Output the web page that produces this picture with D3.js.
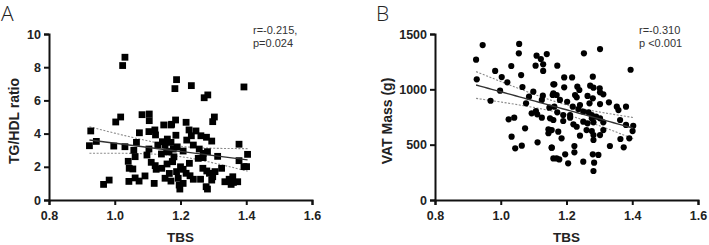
<!DOCTYPE html>
<html><head><meta charset="utf-8">
<script src="https://cdn.jsdelivr.net/npm/d3@7"></script>
<style>
html,body{margin:0;padding:0;background:#fff;}
svg{display:block;font-family:"Liberation Sans",Arial,sans-serif;}
</style></head>
<body>
<svg id="chart" width="709" height="245"></svg>
<script>
// ---------- Data ----------
const xTicks = [0.8, 1.0, 1.2, 1.4, 1.6];
const yTicksA = [0, 2, 4, 6, 8, 10];
const yTicksB = [0, 500, 1000, 1500];

const tbsA = [1.031,1.024,1.018,1.003,0.927,0.923,0.944,0.997,1.031,1.075,1.083,1.105,1.105,1.066,1.058,1.041,1.044,1.055,1.043,1.062,1.074,1.092,1.120,1.062,0.966,0.983,1.104,1.122,1.124,1.149,1.171,1.098,1.111,1.123,1.126,1.143,1.159,1.131,1.145,1.153,1.158,1.160,1.171,1.104,1.142,1.153,1.171,1.175,1.188,1.183,1.233,1.393,1.283,1.272,1.303,1.298,1.185,1.173,1.217,1.226,1.247,1.233,1.219,1.262,1.279,1.295,1.239,1.378,1.178,1.208,1.257,1.269,1.282,1.313,1.404,1.254,1.269,1.378,1.227,1.176,1.401,1.393,1.325,1.208,1.188,1.217,1.229,1.268,1.280,1.288,1.298,1.305,1.295,1.239,1.261,1.193,1.196,1.198,1.208,1.278,1.282,1.335,1.348,1.359,1.361,1.374,1.354,1.165,1.180,1.190,1.200,1.166,1.186];
const tgHdl = [8.6,8.1,5.0,4.7,4.16,3.27,3.53,3.25,3.21,4.05,5.14,5.18,4.78,3.47,2.99,2.33,1.91,1.87,1.12,1.33,1.14,1.45,1.0,2.61,0.94,1.2,4.12,4.22,3.92,4.52,4.52,2.71,2.27,2.07,1.85,1.91,2.17,3.31,3.51,3.31,2.91,3.67,3.47,3.07,2.77,1.31,1.14,2.31,7.25,6.71,6.89,6.81,6.33,6.16,5.0,4.72,4.82,4.56,4.68,4.22,4.16,3.87,3.61,3.87,3.78,3.55,3.31,3.36,3.07,2.95,3.07,2.81,2.91,2.63,2.75,2.51,2.55,2.37,2.21,2.31,2.01,2.01,1.91,1.85,1.71,1.61,1.46,1.91,1.75,1.61,1.40,1.71,1.2,1.25,1.25,1.31,0.9,0.66,1.0,0.80,0.66,1.10,1.25,1.40,1.06,1.10,0.94,2.9,2.6,3.2,2.0,1.6,3.9];

const tbsB = [0.945,0.925,0.927,1.056,1.055,0.983,1.003,1.020,1.032,1.062,1.066,0.998,0.969,1.109,1.122,1.129,1.140,1.106,1.129,1.099,1.086,1.077,1.128,1.125,1.160,1.158,1.148,1.094,1.107,1.111,1.125,1.041,1.024,1.150,1.074,1.145,1.145,1.033,1.112,1.064,1.044,1.155,1.160,
1.302,1.253,1.395,1.172,1.193,1.217,1.280,1.163,1.193,1.233,1.239,1.272,1.282,1.301,1.302,1.160,1.170,1.226,1.231,1.264,1.280,1.312,1.180,1.202,1.270,1.302,1.329,1.353,1.381,1.358,1.163,1.219,1.241,1.236,1.251,1.172,1.190,1.211,1.267,1.277,1.290,1.302,1.277,1.160,1.190,1.211,1.221,1.231,1.251,1.264,1.282,1.312,1.363,1.381,1.403,1.401,1.391,1.364,1.155,1.175,1.185,1.241,1.261,1.277,1.282,1.302,1.312,1.282,1.332,1.374,1.224,1.224,1.196,1.155,1.170,1.178,1.205,1.251,1.280,1.297,1.284,1.282];
const vatMass = [1400,1268,1090,1410,1325,1166,1111,1063,1211,1129,1021,988,897,1304,1274,1226,1319,1214,1166,979,934,874,943,904,1045,949,834,783,804,774,744,744,729,738,648,639,603,572,521,491,467,473,376,
1364,1325,1177,1214,1108,1108,1114,1045,1018,1024,994,1033,1015,1009,973,964,949,949,928,940,919,955,904,888,874,867,883,843,843,813,843,843,858,822,798,792,768,768,792,768,753,738,738,723,714,744,684,662,708,693,702,702,723,678,671,623,557,551,632,617,557,581,632,623,587,587,632,542,488,476,488,431,413,473,376,367,331,346,413,407,337,262];

const statsA = ["r=-0.215,", "p=0.024"];
const statsB = ["r=-0.310", "p <0.001"];

// ---------- Helpers ----------
function fit(xs, ys) {
  const n = xs.length, mx = d3.mean(xs), my = d3.mean(ys);
  let sxx = 0, sxy = 0;
  for (let i = 0; i < n; i++) { sxx += (xs[i]-mx)**2; sxy += (xs[i]-mx)*(ys[i]-my); }
  const b = sxy / sxx, a = my - b * mx;
  let sse = 0;
  for (let i = 0; i < n; i++) sse += (ys[i] - a - b*xs[i])**2;
  const s = Math.sqrt(sse / (n - 2)), t = 1.98;
  const x0 = d3.min(xs), x1 = d3.max(xs);
  return d3.range(0, 41).map(k => {
    const x = x0 + (x1 - x0) * k / 40;
    const yh = a + b * x;
    const h = t * s * Math.sqrt(1/n + (x-mx)**2/sxx);
    return {x, y: yh, lo: yh - h, hi: yh + h};
  });
}

const svg = d3.select("#chart");

function panel(opts) {
  const {left, right, top, bottom, yDomain, yTicks, xs, ys, yLabel, letter, letterX, stats, statsX, labelX, marker} = opts;
  const x = d3.scaleLinear().domain([0.8, 1.6]).range([left, right]);
  const y = d3.scaleLinear().domain(yDomain).range([bottom, top]);
  const g = svg.append("g");

  const f = fit(xs, ys);
  const line = key => d3.line().x(d => x(d.x)).y(d => y(d[key]));
  ["hi","lo"].forEach(k => g.append("path").datum(f).attr("d", line(k)).attr("fill","none")
    .attr("stroke","#8a8a8a").attr("stroke-width",1.1).attr("stroke-dasharray","2,1.6"));

  const data = xs.map((v, i) => ({x: v, y: ys[i]}));
  if (marker === "square") {
    g.append("g").selectAll("rect").data(data).join("rect")
      .attr("x", d => x(d.x) - 3.4).attr("y", d => y(d.y) - 3.4)
      .attr("width", 6.8).attr("height", 6.8).attr("fill", "#000");
  } else {
    g.append("g").selectAll("circle").data(data).join("circle")
      .attr("cx", d => x(d.x)).attr("cy", d => y(d.y)).attr("r", 3.1).attr("fill", "#000");
  }
  g.append("path").datum(f).attr("d", line("y")).attr("fill","none").attr("stroke","#333").attr("stroke-width",1.4);

  const xa = g.append("g").attr("transform", `translate(0,${bottom})`)
    .call(d3.axisBottom(x).tickValues(xTicks).tickFormat(d3.format(".1f")).tickSize(5).tickPadding(4));
  const ya = g.append("g").attr("transform", `translate(${left},0)`)
    .call(d3.axisLeft(y).tickValues(yTicks).tickFormat(d3.format("d")).tickSize(5).tickPadding(3));
  [xa, ya].forEach(a => {
    a.select(".domain").attr("stroke","#111").attr("stroke-width",2);
    a.selectAll(".tick line").attr("stroke","#111").attr("stroke-width",2);
    a.selectAll("text").attr("fill","#222").style("font-size","12.5px").style("font-weight","bold")
      .style("font-family","'Liberation Sans',Arial,sans-serif");
  });
  xa.selectAll("text").attr("dy","0.85em");

  g.append("text").attr("x", (left+right)/2).attr("y", 242).attr("text-anchor","middle")
    .style("font-size","13.5px").style("font-weight","bold").attr("fill","#222").text("TBS");
  g.append("text").attr("transform", `translate(${labelX},${(top+bottom)/2 + 4}) rotate(-90)`)
    .attr("text-anchor","middle").style("font-size","14px").style("font-weight","bold").attr("fill","#222").text(yLabel);
  g.append("text").attr("x", letterX).attr("y", 21).style("font-family","'Open Sans',sans-serif")
    .style("font-size","21px").style("font-weight","300").attr("fill","#222").text(letter);
  stats.forEach((s, i) => {
    g.append("text").attr("x", statsX).attr("y", 34 + i*13).style("font-size","11px").attr("fill","#333").text(s);
  });
}

panel({left:49, right:312, top:34, bottom:200, yDomain:[0,10], yTicks:yTicksA, xs:tbsA, ys:tgHdl,
  yLabel:"TG/HDL ratio", letter:"A", letterX:1, stats:statsA, statsX:253, labelX:19, marker:"square"});
panel({left:435, right:698, top:34, bottom:200, yDomain:[0,1500], yTicks:yTicksB, xs:tbsB, ys:vatMass,
  yLabel:"VAT Mass (g)", letter:"B", letterX:376, stats:statsB, statsX:639, labelX:392, marker:"circle"});
</script>
</body></html>
